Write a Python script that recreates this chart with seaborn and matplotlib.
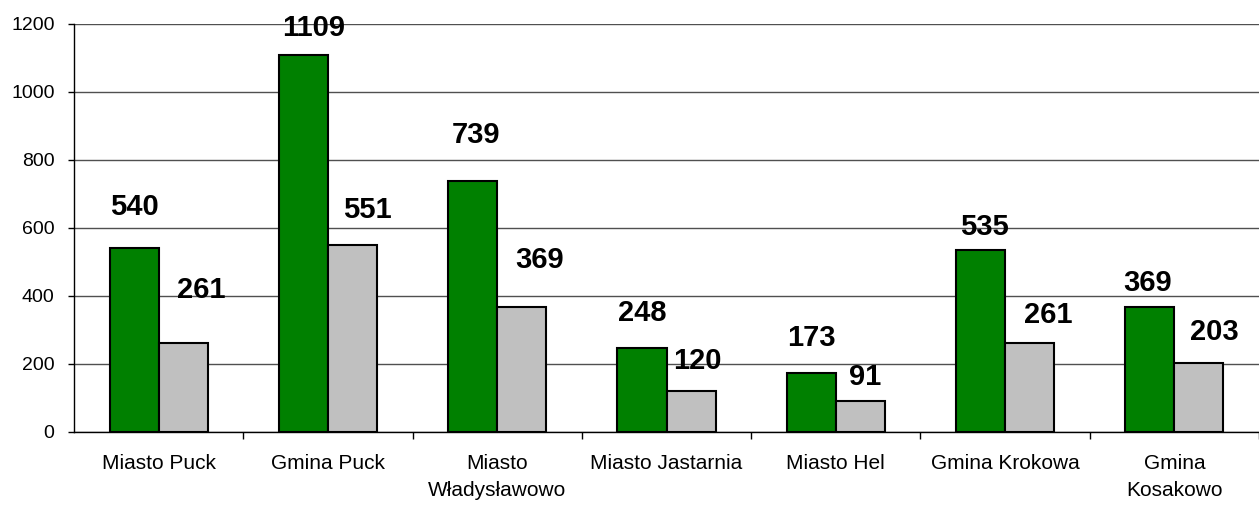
import matplotlib
matplotlib.use("Agg")
import matplotlib.pyplot as plt
import pandas as pd
import seaborn as sns

# data
categories = ["Miasto Puck", "Gmina Puck", "Miasto\nWładysławowo", "Miasto Jastarnia",
              "Miasto Hel", "Gmina Krokowa", "Gmina\nKosakowo"]
series_a = [540, 1109, 739, 248, 173, 535, 369]
series_b = [261, 551, 369, 120, 91, 261, 203]
series_names = ["A", "B"]
y_ticks = [0, 200, 400, 600, 800, 1000, 1200]

# label placement offsets (pixels, relative to bar top centre), Excel-style
offsets_a = [(0, 41), (10, 27), (3, 46), (0, 35), (0, 35), (4, 23), (-2, 24)]
offsets_b = [(18, 53), (15, 35), (18, 47), (6, 30), (5, 24), (19, 28), (15, 31)]

df = pd.DataFrame({
    "category": categories * 2,
    "value": series_a + series_b,
    "series": [series_names[0]] * len(categories) + [series_names[1]] * len(categories),
})

sns.set_theme(style="white")
plt.rcParams["font.family"] = ["Liberation Sans", "DejaVu Sans"]
plt.rcParams["text.color"] = "black"
plt.rcParams["xtick.color"] = "black"
plt.rcParams["ytick.color"] = "black"

fig = plt.figure(figsize=(12.59, 5.09), dpi=100)
ax = fig.add_axes([74 / 1259, 77 / 509, 1185 / 1259, 408 / 509])

sns.barplot(data=df, x="category", y="value", hue="series", order=categories,
            hue_order=series_names, palette=["#008000", "#c0c0c0"], width=0.58,
            edgecolor="black", linewidth=1.5, saturation=1, legend=False, ax=ax)

ax.set_ylim(0, 1200)
ax.set_xlim(-0.5, -0.5 + 1185 / 172)
ax.set_yticks(y_ticks)
ax.yaxis.grid(True, color="#505050", linewidth=1)
ax.set_axisbelow(True)
ax.set_xlabel("")
ax.set_ylabel("")

for side in ["top", "right"]:
    ax.spines[side].set_visible(False)
for side in ["left", "bottom"]:
    ax.spines[side].set_color("black")
    ax.spines[side].set_linewidth(1)

ax.tick_params(axis="y", which="major", left=True, length=4, width=1, color="black",
               labelcolor="black", pad=10, labelsize=14)
ax.tick_params(axis="x", which="major", length=0, pad=16, labelsize=15, labelcolor="black")
ax.set_xticks([i + 0.5 for i in range(len(categories))], minor=True)
ax.tick_params(axis="x", which="minor", bottom=True, length=5, width=1, color="black")
for lbl in ax.get_xticklabels():
    lbl.set_linespacing(1.5)
    lbl.set_horizontalalignment("center")

for container, values, offs in zip(ax.containers, [series_a, series_b], [offsets_a, offsets_b]):
    for bar, val, (dx, dy) in zip(container, values, offs):
        ax.annotate(str(val), (bar.get_x() + bar.get_width() / 2, bar.get_height()),
                    xytext=(dx, dy), textcoords="offset pixels", ha="center", va="center",
                    fontsize=21, fontweight="bold", color="black")

fig.savefig("out.png", dpi=100)
